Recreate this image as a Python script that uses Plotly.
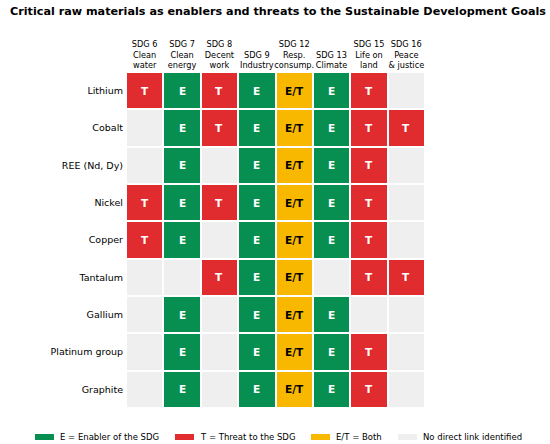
import plotly.graph_objects as go

materials = ["Lithium", "Cobalt", "REE (Nd, Dy)", "Nickel", "Copper", "Tantalum",
             "Gallium", "Platinum group", "Graphite"]
sdgs = ["SDG 6<br>Clean<br>water", "SDG 7<br>Clean<br>energy", "SDG 8<br>Decent<br>work",
        "SDG 9<br>Industry", "SDG 12<br>Resp.<br>consump.", "SDG 13<br>Climate",
        "SDG 15<br>Life on<br>land", "SDG 16<br>Peace<br>& justice"]
links = [
    ["T", "E", "T", "E", "E/T", "E", "T", ""],
    ["", "E", "T", "E", "E/T", "E", "T", "T"],
    ["", "E", "", "E", "E/T", "E", "T", ""],
    ["T", "E", "T", "E", "E/T", "E", "T", ""],
    ["T", "E", "", "E", "E/T", "E", "T", ""],
    ["", "", "T", "E", "E/T", "", "T", "T"],
    ["", "E", "", "E", "E/T", "E", "", ""],
    ["", "E", "", "E", "E/T", "E", "T", ""],
    ["", "E", "", "E", "E/T", "E", "T", ""],
]
legend_labels = ["E = Enabler of the SDG", "T = Threat to the SDG", "E/T = Both",
                 "No direct link identified"]

GREEN, RED, YELLOW, GREY = "#078f52", "#e02b2f", "#f9b800", "#efefef"
code = {"": 0, "E": 1, "T": 2, "E/T": 3}
z = [[code[v] for v in row] for row in links]
colorscale = [[0, GREY], [0.25, GREY], [0.25, GREEN], [0.5, GREEN],
              [0.5, RED], [0.75, RED], [0.75, YELLOW], [1, YELLOW]]

xs = list(range(len(sdgs)))
fig = go.Figure(go.Heatmap(
    z=z, x=xs, y=materials, zmin=-0.5, zmax=3.5, colorscale=colorscale,
    showscale=False, xgap=2, ygap=2, hoverinfo="skip"))

for i, row in enumerate(links):
    for j, v in enumerate(row):
        if v:
            fig.add_annotation(x=j, y=materials[i], text=f"<b>{v}</b>", showarrow=False,
                               font=dict(size=10.5, color="black" if v == "E/T" else "white",
                                         family="DejaVu Sans"))

W, H = 550, 444
fig.update_layout(
    width=W, height=H, margin=dict(l=0, r=0, t=0, b=0),
    plot_bgcolor="white", paper_bgcolor="white",
    font=dict(family="DejaVu Sans", color="black"),
    xaxis=dict(domain=[126 / W, 425 / W], side="top", tickvals=xs, ticktext=sdgs,
               tickfont=dict(size=8.2), showgrid=False, zeroline=False, ticks="",
               tickangle=0, range=[-0.5, 7.5], fixedrange=True, ticklabelstandoff=1),
    yaxis=dict(domain=[36 / H, 372 / H], autorange="reversed", tickfont=dict(size=9.5),
               showgrid=False, zeroline=False, ticks="", ticklen=0, fixedrange=True,
               ticklabelstandoff=2),
    showlegend=False,
)
fig.add_annotation(xref="paper", yref="paper", x=8 / W, y=1 - 12 / H, xanchor="left",
                   yanchor="middle", showarrow=False,
                   text="<b>Critical raw materials as enablers and threats to the Sustainable Development Goals</b>",
                   font=dict(size=11.2, family="DejaVu Sans"))

leg_cols = [GREEN, RED, YELLOW, GREY]
leg_x = [35, 175, 311, 398]
for c, lx, lab in zip(leg_cols, leg_x, legend_labels):
    fig.add_shape(type="rect", xref="paper", yref="paper", x0=lx / W, x1=(lx + 19) / W,
                  y0=1 - 440 / H, y1=1 - 434 / H, fillcolor=c, line=dict(width=0))
    fig.add_annotation(xref="paper", yref="paper", x=(lx + 23) / W, y=1 - 437 / H,
                       xanchor="left", yanchor="middle", showarrow=False, text=lab,
                       font=dict(size=8.5, family="DejaVu Sans"))

fig.write_html("out.html", config={"displayModeBar": False},
               post_script="document.body.style.margin='0';document.body.style.overflow='hidden';")
